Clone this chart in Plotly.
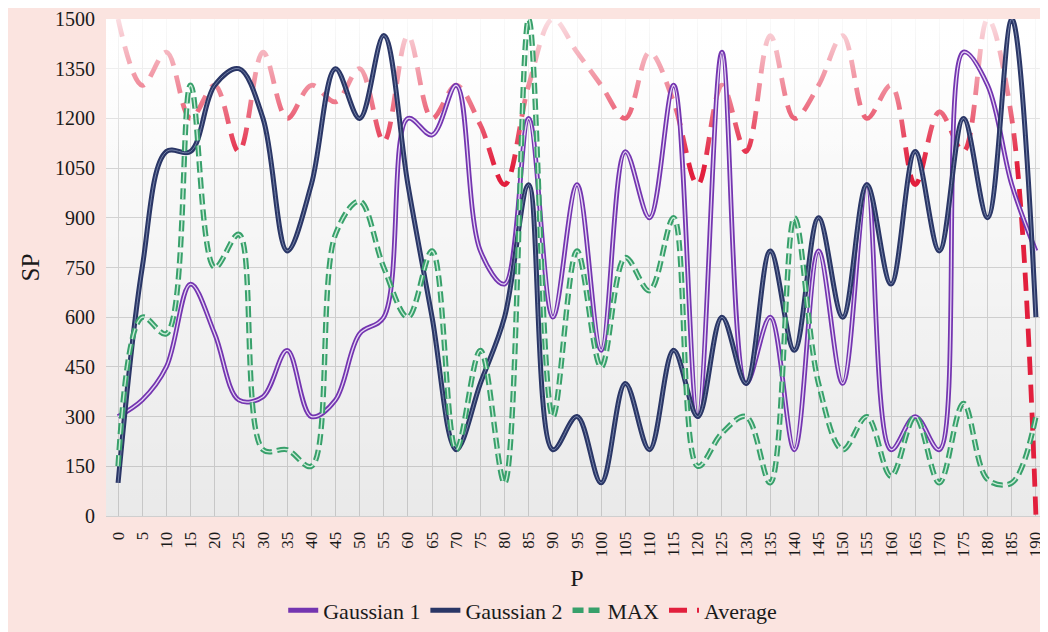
import plotly.graph_objects as go

P = list(range(0, 195, 5))
Y_TICKS = list(range(0, 1501, 150))

gaussian1 = [300, 350, 450, 700, 550, 350, 360, 500, 300, 350,
             550, 600, 1200, 1150, 1300, 800, 700, 1200, 600, 1000,
             500, 1100, 900, 1300, 300, 1400, 400, 600, 200, 800,
             400, 1000, 200, 300, 200, 1400, 1300, 1000, 800]

gaussian2 = [100, 750, 1100, 1100, 1300, 1350, 1200, 800, 1000, 1350,
             1200, 1450, 1000, 600, 200, 400, 600, 1000, 200, 300,
             100, 400, 200, 500, 300, 600, 400, 800, 500, 900,
             600, 1000, 700, 1100, 800, 1200, 900, 1500, 600]

max_vals = [150, 600, 550, 1300, 750, 850, 200, 200, 150, 850,
            950, 750, 600, 800, 200, 500, 100, 1500, 300, 800,
            450, 780, 680, 900, 150, 250, 300, 100, 900, 400,
            200, 300, 120, 300, 100, 340, 110, 100, 300]

average = [1500, 1300, 1400, 1200, 1300, 1100, 1400, 1200, 1300, 1250,
           1350, 1130, 1450, 1200, 1300, 1180, 1000, 1300, 1500, 1400,
           1300, 1200, 1400, 1250, 1000, 1300, 1100, 1450, 1200, 1300,
           1450, 1200, 1300, 1000, 1220, 1100, 1500, 1200, 0]

X_RANGE = [-2.5, 192.5]
Y_RANGE = [0, 1500]

FONT = "Liberation Serif"

fig = go.Figure()

# subtle vertical background gradient of plot area (transparent, grid shows through)
fig.add_trace(go.Scatter(
    x=[X_RANGE[0], X_RANGE[1], X_RANGE[1], X_RANGE[0], X_RANGE[0]],
    y=[Y_RANGE[0], Y_RANGE[0], Y_RANGE[1], Y_RANGE[1], Y_RANGE[0]],
    mode="lines", line=dict(width=0), fill="toself",
    fillgradient=dict(type="vertical",
                      colorscale=[[0, "rgba(0,0,0,0.085)"], [1, "rgba(0,0,0,0)"]],
                      start=Y_RANGE[0], stop=Y_RANGE[1]),
    showlegend=False, hoverinfo="skip"))

# Average (red dashed)
fig.add_trace(go.Scatter(
    x=P, y=average, name="Average", mode="lines",
    line=dict(color="#e21f3d", width=4.8, dash="18px,10px", shape="spline", smoothing=1),
    legendrank=4))

# white fade overlay so high Average values look paler
fig.add_trace(go.Scatter(
    x=[X_RANGE[0], X_RANGE[1], X_RANGE[1], X_RANGE[0], X_RANGE[0]],
    y=[1050, 1050, Y_RANGE[1], Y_RANGE[1], 1050],
    mode="lines", line=dict(width=0), fill="toself",
    fillgradient=dict(type="vertical",
                      colorscale=[[0, "rgba(255,255,255,0)"], [0.5, "rgba(255,255,255,0.45)"],
                                  [1, "rgba(255,255,255,0.85)"]],
                      start=1050, stop=Y_RANGE[1]),
    showlegend=False, hoverinfo="skip"))

def double_line(y, name, outer, inner, w_out, w_in, dash, rank):
    fig.add_trace(go.Scatter(
        x=P, y=y, name=name, mode="lines",
        line=dict(color=outer, width=w_out, dash=dash, shape="spline", smoothing=1),
        legendrank=rank))
    fig.add_trace(go.Scatter(
        x=P, y=y, name=name, mode="lines",
        line=dict(color=inner, width=w_in, dash=dash, shape="spline", smoothing=1),
        showlegend=False, hoverinfo="skip"))

double_line(gaussian1, "Gaussian 1", "#7435b0", "#e6d6f4", 4.8, 1.3, "solid", 1)
double_line(gaussian2, "Gaussian 2", "#2a3666", "#7684aa", 5.0, 1.0, "solid", 2)
double_line(max_vals, "MAX", "#38a06b", "#c9ecd7", 5.4, 1.4, "11px,5px", 3)

fig.update_layout(
    width=1040, height=624,
    margin=dict(l=98, r=0, t=11, b=112),
    paper_bgcolor="#fbe4e0",
    plot_bgcolor="#ffffff",
    font=dict(family=FONT, color="#1a1a1a"),
    showlegend=True,
    legend=dict(orientation="h", x=0.453, xanchor="center", y=-0.19, yanchor="middle",
                font=dict(family=FONT, size=22, color="#1a1a1a"),
                bgcolor="rgba(0,0,0,0)", itemwidth=30, tracegroupgap=0),
    xaxis=dict(range=X_RANGE, tickmode="array", tickvals=P, ticktext=[str(v) for v in P],
               tickangle=-90, tickfont=dict(family=FONT, size=17),
               showgrid=True, gridcolor="#d9d9d9", gridwidth=1,
               zeroline=False, showline=True, linecolor="#cfcfcf", linewidth=1,
               ticks="", ticklabelstandoff=8, ticklabeloverflow="allow",
               title=dict(text="P", font=dict(family=FONT, size=24), standoff=12)),
    yaxis=dict(range=Y_RANGE, tickmode="array", tickvals=Y_TICKS,
               ticktext=[str(v) for v in Y_TICKS],
               tickfont=dict(family=FONT, size=20),
               showgrid=True, gridcolor="#d9d9d9", gridwidth=1,
               zeroline=False, showline=False, ticks="", ticklabelstandoff=10,
               ticklabeloverflow="allow",
               title=dict(text="SP", font=dict(family=FONT, size=25), standoff=8)),
)

fig.write_html("out.html")
